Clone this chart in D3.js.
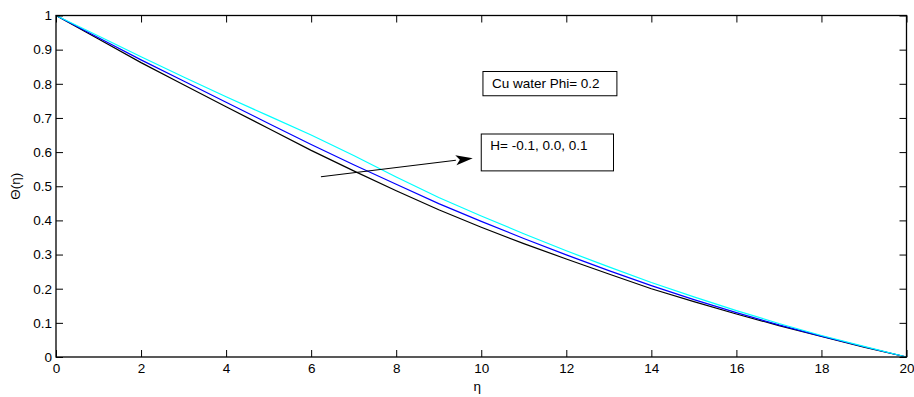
<!DOCTYPE html>
<html>
<head>
<meta charset="utf-8">
<script src="https://cdn.jsdelivr.net/npm/d3@7"></script>
<style>
  body { margin: 0; background: #fff; }
  svg text { font-family: Arial, "Liberation Sans", sans-serif; }
</style>
</head>
<body>
<svg id="chart"></svg>
<script>
// eta grid and temperature profiles
const eta = [0, 1, 2, 3, 4, 5, 6, 7, 8, 9, 10, 11, 12, 13, 14, 15, 16, 17, 18, 19, 20];
const thetaBlack = [1.000, 0.931, 0.862, 0.797, 0.733, 0.669, 0.605, 0.545, 0.487, 0.431, 0.380,
  0.332, 0.287, 0.243, 0.200, 0.162, 0.126, 0.092, 0.060, 0.029, 0.000];
const thetaBlue = [1.000, 0.935, 0.870, 0.808, 0.746, 0.684, 0.622, 0.563, 0.506, 0.449, 0.397,
  0.347, 0.299, 0.253, 0.209, 0.168, 0.130, 0.094, 0.061, 0.030, 0.000];
const thetaCyan = [1.000, 0.940, 0.879, 0.820, 0.762, 0.706, 0.650, 0.590, 0.527, 0.467, 0.413,
  0.361, 0.311, 0.264, 0.218, 0.176, 0.136, 0.098, 0.063, 0.031, 0.000];

const seriesNames = ['H=-0.1', 'H=0.0', 'H=0.1'];
const seriesColors = ['#000000', '#0000ff', '#00ffff'];

const xTicks = [0, 2, 4, 6, 8, 10, 12, 14, 16, 18, 20];
const yTicks = [0, 0.1, 0.2, 0.3, 0.4, 0.5, 0.6, 0.7, 0.8, 0.9, 1];

class LineChart {

  constructor(_config, _data) {
    this.config = {
      parentElement: _config.parentElement,
      containerWidth: 914,
      containerHeight: 397,
      margin: { top: 15.5, right: 7.5, bottom: 40, left: 56 },
      fontSize: 13.5
    };
    this.data = _data;
    this.initVis();
  }

  initVis() {
    let vis = this;

    vis.width = vis.config.containerWidth - vis.config.margin.left - vis.config.margin.right;
    vis.height = vis.config.containerHeight - vis.config.margin.top - vis.config.margin.bottom;

    vis.svg = d3.select(vis.config.parentElement)
        .attr('width', vis.config.containerWidth)
        .attr('height', vis.config.containerHeight);

    vis.chart = vis.svg.append('g')
        .attr('transform', `translate(${vis.config.margin.left},${vis.config.margin.top})`);

    vis.xScale = d3.scaleLinear().domain([0, 20]).range([0, vis.width]);
    vis.yScale = d3.scaleLinear().domain([0, 1]).range([vis.height, 0]);

    vis.renderVis();
  }

  renderVis() {
    let vis = this;
    const fs = vis.config.fontSize;

    // curves first, the box sits on top
    const line = d3.line()
        .x(d => vis.xScale(d.x))
        .y(d => vis.yScale(d.y));

    vis.chart.selectAll('.curve')
        .data(vis.data)
        .join('path')
        .attr('class', 'curve')
        .attr('fill', 'none')
        .attr('stroke', d => d.color)
        .attr('stroke-width', 1.2)
        .attr('d', d => line(d.values));

    // axes with inward ticks, mirrored on top and right
    const fmt = d => d3.format('~g')(d);
    const axes = [
      { axis: d3.axisBottom(vis.xScale).tickValues(xTicks).tickFormat(fmt).tickPadding(6), at: `translate(0,${vis.height})` },
      { axis: d3.axisLeft(vis.yScale).tickValues(yTicks).tickFormat(fmt).tickPadding(4), at: 'translate(0,0)' },
      { axis: d3.axisTop(vis.xScale).tickValues(xTicks).tickFormat(''), at: 'translate(0,0)' },
      { axis: d3.axisRight(vis.yScale).tickValues(yTicks).tickFormat(''), at: `translate(${vis.width},0)` }
    ];
    axes.forEach(a => {
      const g = vis.chart.append('g')
          .attr('transform', a.at)
          .call(a.axis.tickSizeInner(-7).tickSizeOuter(0));
      g.select('.domain').remove();
      g.selectAll('line').attr('stroke', '#000');
      g.selectAll('text')
          .attr('fill', '#000')
          .style('font-size', fs + 'px')
          .style('font-family', 'Arial, "Liberation Sans", sans-serif');
    });

    vis.chart.append('rect')
        .attr('width', vis.width)
        .attr('height', vis.height)
        .attr('fill', 'none')
        .attr('stroke', '#000')
        .attr('stroke-width', 1.3);

    // axis titles
    vis.chart.append('text')
        .attr('x', vis.width / 2 - 4)
        .attr('y', vis.height + 34)
        .attr('text-anchor', 'middle')
        .style('font-size', fs + 'px')
        .text('η');

    vis.chart.append('text')
        .attr('transform', `translate(${15 - vis.config.margin.left},${vis.height / 2}) rotate(-90)`)
        .attr('text-anchor', 'middle')
        .attr('dy', '0.35em')
        .style('font-size', fs + 'px')
        .text('Θ(η)');

    // annotation boxes
    const boxes = [
      { text: 'Cu water Phi= 0.2', x0: 10.04, x1: 13.19, y0: 0.836, y1: 0.765 },
      { text: 'H= -0.1, 0.0, 0.1', x0: 10.0, x1: 13.11, y0: 0.653, y1: 0.545 }
    ];
    boxes.forEach(b => {
      const bx = vis.xScale(b.x0), by = vis.yScale(b.y0);
      vis.chart.append('rect')
          .attr('x', bx)
          .attr('y', by)
          .attr('width', vis.xScale(b.x1) - bx)
          .attr('height', vis.yScale(b.y1) - by)
          .attr('fill', '#fff')
          .attr('stroke', '#000')
          .attr('stroke-width', 1);
      vis.chart.append('text')
          .attr('x', bx + 9)
          .attr('y', by + 16)
          .style('font-size', fs + 'px')
          .text(b.text);
    });

    // arrow pointing at the second box
    const ax0 = vis.xScale(6.23), ay0 = vis.yScale(0.528);
    const ax1 = vis.xScale(9.80), ay1 = vis.yScale(0.582);
    const ang = Math.atan2(ay1 - ay0, ax1 - ax0);
    const headLen = 17, headHalf = 5;
    const bxh = ax1 - headLen * Math.cos(ang), byh = ay1 - headLen * Math.sin(ang);
    vis.chart.append('line')
        .attr('x1', ax0).attr('y1', ay0)
        .attr('x2', bxh).attr('y2', byh)
        .attr('stroke', '#000')
        .attr('stroke-width', 1.1);
    vis.chart.append('path')
        .attr('d', `M${ax1},${ay1}`
          + `L${bxh - headHalf * Math.sin(ang)},${byh + headHalf * Math.cos(ang)}`
          + `L${bxh + 4 * Math.cos(ang)},${byh + 4 * Math.sin(ang)}`
          + `L${bxh + headHalf * Math.sin(ang)},${byh - headHalf * Math.cos(ang)}Z`)
        .attr('fill', '#000');
  }
}

const series = [thetaBlack, thetaBlue, thetaCyan].map((vals, i) => ({
  name: seriesNames[i],
  color: seriesColors[i],
  values: eta.map((x, j) => ({ x: x, y: vals[j] }))
}));

new LineChart({ parentElement: '#chart' }, series);
</script>
</body>
</html>
